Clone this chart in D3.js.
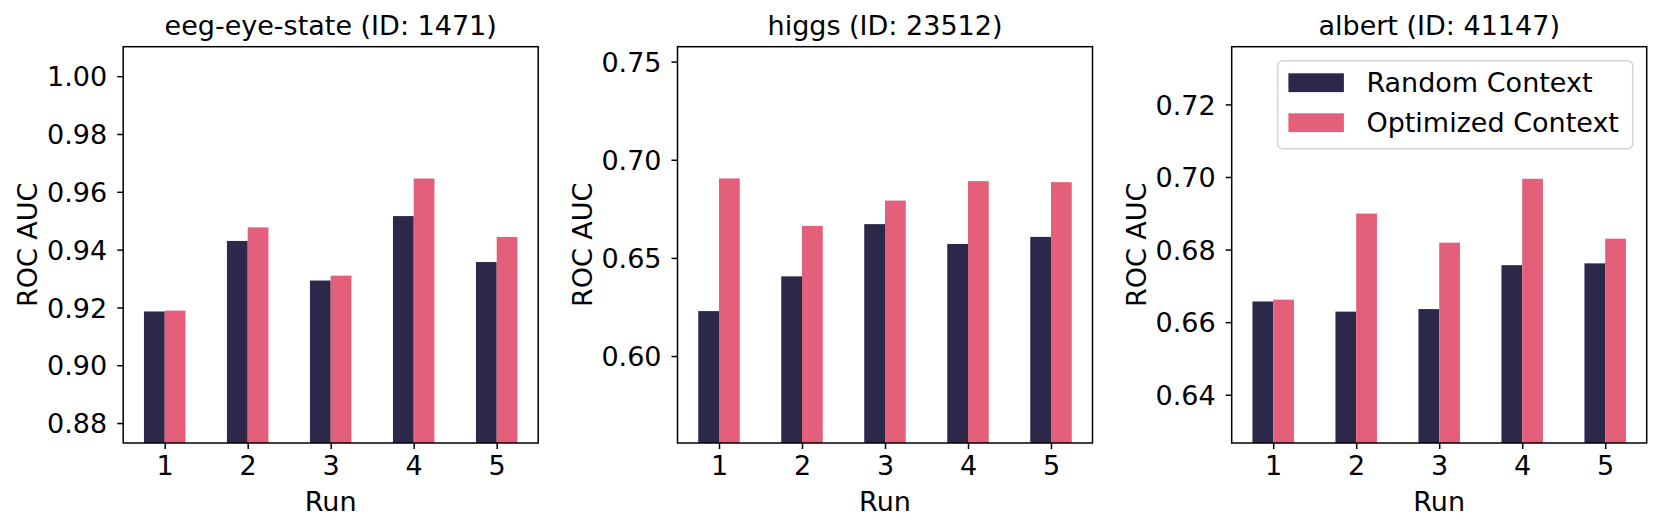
<!DOCTYPE html>
<html>
<head>
<meta charset="utf-8">
<script src="https://cdn.jsdelivr.net/npm/d3@7"></script>
<style>
  html, body { margin: 0; padding: 0; background: #ffffff; }
  svg { display: block; }
  text { font-family: "DejaVu Sans", sans-serif; fill: #000; }
</style>
</head>
<body>
<svg id="chart" width="1661" height="532"></svg>
<script>
// ---------- data ----------
const runs = [1, 2, 3, 4, 5];
const seriesNames = ["Random Context", "Optimized Context"];
const panelTitles = ["eeg-eye-state (ID: 1471)", "higgs (ID: 23512)", "albert (ID: 41147)"];

const eegRandom    = [0.9186, 0.9430, 0.9293, 0.9516, 0.9357];
const eegOptimized = [0.9189, 0.9477, 0.9310, 0.9646, 0.9444];

const higgsRandom    = [0.6229, 0.6406, 0.6672, 0.6571, 0.6607];
const higgsOptimized = [0.6905, 0.6663, 0.6792, 0.6891, 0.6886];

const albertRandom    = [0.6657, 0.6629, 0.6636, 0.6757, 0.6762];
const albertOptimized = [0.6662, 0.6899, 0.6819, 0.6995, 0.6830];

const eegYDomain    = [0.8731, 1.0102];
const higgsYDomain  = [0.5557, 0.7576];
const albertYDomain = [0.6267, 0.7359];

const eegYTicks    = [0.88, 0.90, 0.92, 0.94, 0.96, 0.98, 1.00];
const higgsYTicks  = [0.60, 0.65, 0.70, 0.75];
const albertYTicks = [0.64, 0.66, 0.68, 0.70, 0.72];

// ---------- layout / style ----------
const colors = ["#2d2749", "#e4607a"];
const FS = 27;
const axTop = 46.7, axBottom = 443;
const axWidth = 415;
const axLefts = [123.2, 677.5, 1231.7];

const panels = [
  { title: panelTitles[0], random: eegRandom, optimized: eegOptimized, domain: eegYDomain, ticks: eegYTicks, legend: false },
  { title: panelTitles[1], random: higgsRandom, optimized: higgsOptimized, domain: higgsYDomain, ticks: higgsYTicks, legend: false },
  { title: panelTitles[2], random: albertRandom, optimized: albertOptimized, domain: albertYDomain, ticks: albertYTicks, legend: true }
];

const svg = d3.select("#chart");

panels.forEach((p, i) => {
  const left = axLefts[i];
  const h = axBottom - axTop;
  const g = svg.append("g").attr("transform", `translate(${left},${axTop})`);

  const x = d3.scaleLinear().domain([0.5, 5.5]).range([0, axWidth]);
  const y = d3.scaleLinear().domain(p.domain).range([h, 0]);
  const bw = x(1.25) - x(1);

  // bars
  const series = [p.random, p.optimized];
  series.forEach((vals, si) => {
    g.selectAll(null)
      .data(runs.map((r, k) => ({ run: r, v: vals[k] })))
      .enter().append("rect")
      .attr("x", d => si === 0 ? x(d.run) - bw : x(d.run))
      .attr("y", d => y(d.v))
      .attr("width", bw)
      .attr("height", d => h - y(d.v))
      .attr("fill", colors[si]);
  });

  // y axis
  const yAxis = d3.axisLeft(y).tickValues(p.ticks).tickFormat(d3.format(".2f")).tickSize(6).tickPadding(10);
  const ya = g.append("g").call(yAxis);
  ya.select(".domain").remove();
  ya.selectAll(".tick line").attr("stroke", "#000").attr("stroke-width", 1.5);
  ya.selectAll(".tick text").attr("font-size", FS).attr("font-family", "DejaVu Sans").attr("dy", "0.36em").attr("fill", "#000");

  // x axis
  const xAxis = d3.axisBottom(x).tickValues(runs).tickFormat(d3.format("d")).tickSize(6).tickPadding(7);
  const xa = g.append("g").attr("transform", `translate(0,${h})`).call(xAxis);
  xa.select(".domain").remove();
  xa.selectAll(".tick line").attr("stroke", "#000").attr("stroke-width", 1.5);
  xa.selectAll(".tick text").attr("font-size", FS).attr("font-family", "DejaVu Sans").attr("dy", "0.71em").attr("fill", "#000");

  // frame
  g.append("rect").attr("x", 0).attr("y", 0).attr("width", axWidth).attr("height", h)
    .attr("fill", "none").attr("stroke", "#000").attr("stroke-width", 1.5);

  // title
  svg.append("text").attr("x", left + axWidth / 2).attr("y", 34.5)
    .attr("text-anchor", "middle").attr("font-size", FS).text(p.title);

  // x label
  svg.append("text").attr("x", left + axWidth / 2).attr("y", 511)
    .attr("text-anchor", "middle").attr("font-size", FS).text("Run");

  // y label
  svg.append("text")
    .attr("transform", `translate(${left - 86},${(axTop + axBottom) / 2}) rotate(-90)`)
    .attr("text-anchor", "middle").attr("font-size", FS).text("ROC AUC");

  // legend
  if (p.legend) {
    const lg = svg.append("g").attr("transform", `translate(${left + 46},${60.7})`);
    lg.append("rect").attr("x", 0).attr("y", 0).attr("width", 355).attr("height", 88)
      .attr("rx", 5).attr("ry", 5)
      .attr("fill", "#ffffff").attr("fill-opacity", 0.8)
      .attr("stroke", "#d4d4d4").attr("stroke-width", 1.5);
    seriesNames.forEach((name, si) => {
      const yy = 12.6 + si * 40;
      lg.append("rect").attr("x", 10.7).attr("y", yy).attr("width", 55.5).attr("height", 18.8)
        .attr("fill", colors[si]);
      lg.append("text").attr("x", 88.7).attr("y", yy + 18.8).attr("font-size", FS).text(name);
    });
  }
});
</script>
</body>
</html>
